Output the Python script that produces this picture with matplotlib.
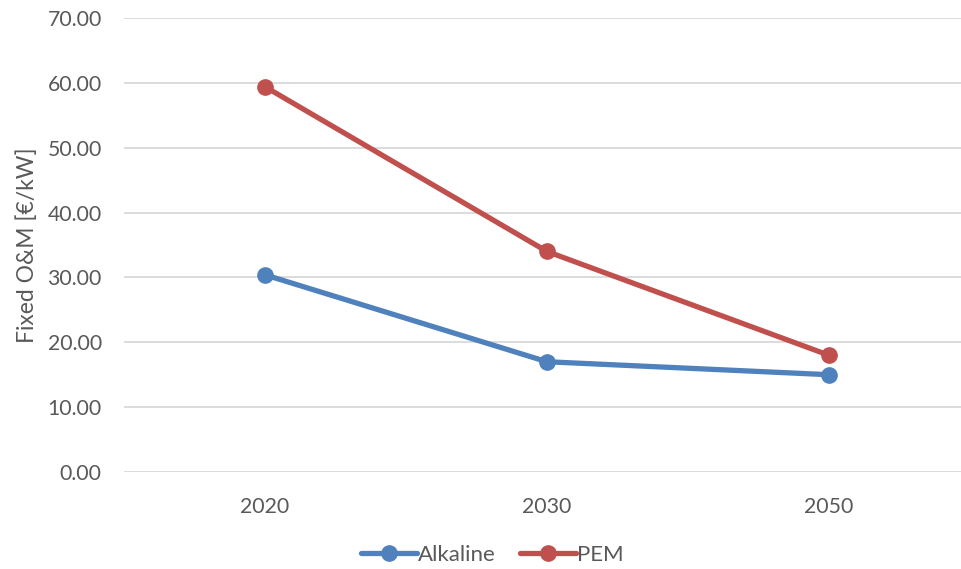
import matplotlib.pyplot as plt
from matplotlib.ticker import FormatStrFormatter

plt.rcParams['font.family'] = ['Lato', 'DejaVu Sans']

years = ["2020", "2030", "2050"]
alkaline = [30.4, 17.0, 15.0]
pem = [59.4, 34.0, 18.0]

grey = "#595959"

fig = plt.figure(figsize=(9.61, 5.69), dpi=100)
ax = fig.add_axes([124 / 961, 1 - 472 / 569, 846 / 961, 454 / 569])

x = range(len(years))
ax.plot(x, alkaline, color="#4F81BD", lw=3.8, marker="o", ms=11, label="Alkaline",
        solid_capstyle="round", zorder=3)
ax.plot(x, pem, color="#C0504D", lw=3.8, marker="o", ms=11, label="PEM",
        solid_capstyle="round", zorder=3)

ax.set_xlim(-0.5, 2.5)
ax.set_ylim(0, 70)
ax.set_yticks(range(0, 71, 10))
ax.yaxis.set_major_formatter(FormatStrFormatter("%.2f"))
ax.set_xticks(list(x))
ax.set_xticklabels(years)
ax.grid(axis="y", color="#D9D9D9", lw=1.3)
ax.set_axisbelow(True)
for s in ax.spines.values():
    s.set_visible(False)
ax.tick_params(length=0, labelsize=15.3, colors=grey)
ax.tick_params(axis="y", pad=16)
ax.tick_params(axis="x", pad=18)
ax.set_ylabel("Fixed O&M [€/kW]", fontsize=16.5, color=grey, labelpad=7)

fig.legend(loc="center", bbox_to_anchor=(0.5125, 1 - 555 / 569), ncol=2, frameon=False,
           fontsize=16, labelcolor=grey, handlelength=2.5, handletextpad=0.05,
           columnspacing=1.1)

fig.savefig("out.png", dpi=100)
